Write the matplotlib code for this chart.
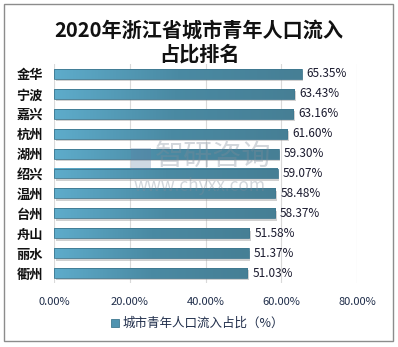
import matplotlib
matplotlib.use("Agg")
import matplotlib.pyplot as plt
import numpy as np
from matplotlib.patches import Rectangle
from matplotlib.colors import LinearSegmentedColormap

plt.rcParams['font.family'] = ['Noto Sans CJK SC', 'DejaVu Sans']

cities = ["金华", "宁波", "嘉兴", "杭州", "湖州", "绍兴", "温州", "台州", "舟山", "丽水", "衢州"]
values = [65.35, 63.43, 63.16, 61.60, 59.30, 59.07, 58.48, 58.37, 51.58, 51.37, 51.03]
xticks = [0, 20, 40, 60, 80]
title = "2020年浙江省城市青年人口流入\n占比排名"
legend_label = "城市青年人口流入占比（%）"

fig = plt.figure(figsize=(3.98, 3.47), dpi=100)
fig.patch.set_facecolor('white')
# outer frame
fig.patches.append(Rectangle((4/398, 1-341/347), 389/398, 337/347, transform=fig.transFigure,
                             fill=False, edgecolor='#8c8c8c', linewidth=1.0))

ax = fig.add_axes([54/398, 1-283/347, (357-54)/398, (283-64)/347])
ax.set_xlim(0, 80)
n = len(cities)
ax.set_ylim(n - 0.5, -0.5)

cmap = LinearSegmentedColormap.from_list('bar', ['#5eaccb', '#4a8aa3', '#467f95'])
grad = np.linspace(0, 1, 256).reshape(1, -1)
h = 0.5
for i, v in enumerate(values):
    # shadow
    ax.add_patch(Rectangle((0.4, i - h/2 + 0.12), v, h, facecolor='#9a9a9a', alpha=0.45,
                           edgecolor='none', zorder=2))
    ax.imshow(grad, cmap=cmap, aspect='auto', extent=(0, v, i + h/2, i - h/2), zorder=3)
    ax.add_patch(Rectangle((0, i - h/2), v, h, facecolor='none', edgecolor='#3f7890',
                           linewidth=0.6, zorder=4))
    ax.text(v + 1.3, i, f"{v:.2f}%", va='center', ha='left', fontsize=8.5,
            color='#1a1a2e', zorder=5)

ax.set_xlim(0, 80)
ax.set_ylim(n - 0.5, -0.5)
ax.set_xticks(xticks)
ax.set_xticklabels([f"{t:.2f}%" for t in xticks], fontsize=8, color='#1f2d4a')
ax.set_yticks(range(n))
ax.set_yticklabels(cities, fontsize=9.5, fontweight='bold', color='#111111')
ax.tick_params(axis='both', length=0, pad=8)
ax.tick_params(axis='x', pad=10)
ax.grid(axis='x', color='#d9d9d9', linewidth=0.8, zorder=0)
ax.set_axisbelow(True)
for s in ax.spines.values():
    s.set_visible(False)

fig.text(199/398, 1-42/347, title, ha='center', va='center', fontsize=14.5,
         fontweight='bold', color='#111111', linespacing=1.15)

# watermark
fig.text(213/398, 1-157/347, "智研咨询", ha='center', va='center', fontsize=21,
         color='#7f8c99', alpha=0.35, zorder=10)
fig.text(200/398, 1-186/347, "www.chyxx.com", ha='center', va='center', fontsize=12.5,
         color='#7f8c99', alpha=0.35, zorder=10)
fig.patches.append(Rectangle((131/398, 1-170/347), 20/398, 22/347, transform=fig.transFigure,
                             facecolor='#5f7ea3', alpha=0.3, edgecolor='none', zorder=10))

# legend
fig.patches.append(Rectangle((111/398, 1-327/347), 8/398, 8/347, transform=fig.transFigure,
                             facecolor='#4f93b0', edgecolor='#3f7890', linewidth=0.6))
fig.text(123/398, 1-323/347, legend_label, ha='left', va='center', fontsize=9, color='#1f2d4a')

fig.savefig('out.png', dpi=100)
